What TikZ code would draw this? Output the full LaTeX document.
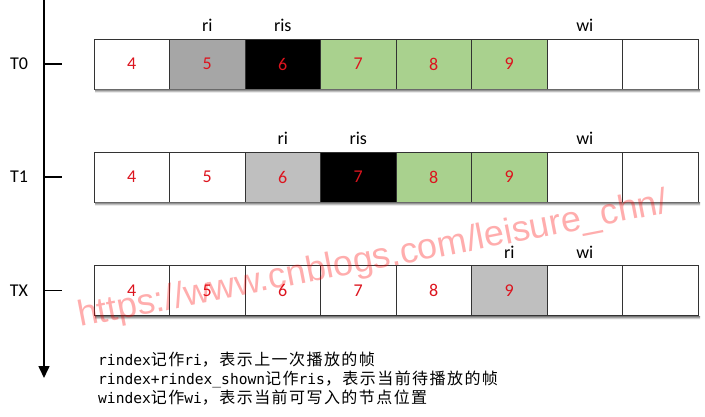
\documentclass[tikz,border=0pt]{standalone}
\usepackage{fontspec}
\setmainfont{Carlito}
\newfontfamily\cjk[LetterSpace=9]{Noto Sans CJK SC}
\newfontfamily\monofont{DejaVu Sans Mono}
\newfontfamily\wmfont{Liberation Sans}
\usetikzlibrary{positioning}
\usetikzlibrary{arrows.meta}

\definecolor{numred}{RGB}{220,20,30}
\definecolor{grayA}{RGB}{166,166,166}
\definecolor{grayB}{RGB}{191,191,191}
\definecolor{okgreen}{RGB}{169,209,142}
\definecolor{shade}{RGB}{226,231,240}

\begin{document}
\begin{tikzpicture}[x=1pt, y=-1pt,
    cell/.style = {draw=black!80, line width=0.9pt, minimum width=75.5pt, minimum height=50pt,
                   inner sep=0pt, outer sep=0pt, text=numred, font=\fontsize{18}{20}\selectfont},
    ptr/.style = {anchor=base, inner sep=0pt, font=\fontsize{18}{20}\selectfont},
    tname/.style = {font=\fontsize{18}{20}\selectfont},
    note/.style = {anchor=base west, inner sep=0pt, font=\monofont\fontsize{14.6}{19}\selectfont},
    wmark/.style = {anchor=base west, rotate=11, inner sep=0pt, text=red, text opacity=0.32,
                    font=\wmfont\fontsize{36}{36}\selectfont}]
      \useasboundingbox (0,0) rectangle (705,417);

      % time axis
      \coordinate (axtop) at (44,0);
      \coordinate (axend) at (44,378);
      \draw[line width=1.6pt, -{Triangle[length=12pt,width=11pt]}] (axtop) -- (axend);

      \coordinate (k0) at (44,64);    \coordinate (k0e) at (62,64);
      \coordinate (k1) at (44,177);   \coordinate (k1e) at (62,177);
      \coordinate (kx) at (44,290.7); \coordinate (kxe) at (62,290.7);
      \draw[line width=1.5pt] (k0) -- (k0e);
      \draw[line width=1.5pt] (k1) -- (k1e);
      \draw[line width=1.5pt] (kx) -- (kxe);
      \node[tname](t0) at (19,64) {T0};
      \node[tname](t1) at (19,177) {T1};
      \node[tname](tx) at (19,290.7) {TX};

      % T0
      \node[cell](a1) at (131.75,64) {4};
      \node[cell, fill=grayA](a2)[right=0pt of a1]{5};
      \node[cell, fill=black](a3)[right=0pt of a2]{6};
      \node[cell, fill=okgreen](a4)[right=0pt of a3]{7};
      \node[cell, fill=okgreen](a5)[right=0pt of a4]{8};
      \node[cell, fill=okgreen](a6)[right=0pt of a5]{9};
      \node[cell](a7)[right=0pt of a6]{};
      \node[cell](a8)[right=0pt of a7]{};
      \fill[shade] ([xshift=1pt,yshift=-0.5pt]a1.south west) rectangle ([xshift=2pt,yshift=-3.5pt]a8.south east);
      \node[ptr](ari) at ([yshift=7pt]a2.north) {ri};
      \node[ptr](aris) at ([yshift=7pt]a3.north) {ris};
      \node[ptr](awi) at ([yshift=7pt]a7.north) {wi};

      % T1
      \node[cell](b1) at (131.75,177) {4};
      \node[cell](b2)[right=0pt of b1]{5};
      \node[cell, fill=grayB](b3)[right=0pt of b2]{6};
      \node[cell, fill=black](b4)[right=0pt of b3]{7};
      \node[cell, fill=okgreen](b5)[right=0pt of b4]{8};
      \node[cell, fill=okgreen](b6)[right=0pt of b5]{9};
      \node[cell](b7)[right=0pt of b6]{};
      \node[cell](b8)[right=0pt of b7]{};
      \fill[shade] ([xshift=1pt,yshift=-0.5pt]b1.south west) rectangle ([xshift=2pt,yshift=-3.5pt]b8.south east);
      \node[ptr](bri) at ([yshift=7pt]b3.north) {ri};
      \node[ptr](bris) at ([yshift=7pt]b4.north) {ris};
      \node[ptr](bwi) at ([yshift=7pt]b7.north) {wi};

      % TX
      \node[cell](c1) at (131.75,290.7) {4};
      \node[cell](c2)[right=0pt of c1]{5};
      \node[cell](c3)[right=0pt of c2]{6};
      \node[cell](c4)[right=0pt of c3]{7};
      \node[cell](c5)[right=0pt of c4]{8};
      \node[cell, fill=grayB](c6)[right=0pt of c5]{9};
      \node[cell](c7)[right=0pt of c6]{};
      \node[cell](c8)[right=0pt of c7]{};
      \fill[shade] ([xshift=1pt,yshift=-0.5pt]c1.south west) rectangle ([xshift=2pt,yshift=-3.5pt]c8.south east);
      \node[ptr](cri) at ([yshift=7pt]c6.north) {ri};
      \node[ptr](cwi) at ([yshift=7pt]c7.north) {wi};

      % notes
      \node[note](n1) at (98,365) {rindex{\cjk\fontsize{16}{19}\selectfont 记作}ri{\cjk\fontsize{16}{19}\selectfont ，表示上一次播放的帧}};
      \node[note](n2) at (98,384) {rindex+rindex\_shown{\cjk\fontsize{16}{19}\selectfont 记作}ris{\cjk\fontsize{16}{19}\selectfont ，表示当前待播放的帧}};
      \node[note](n3) at (98,403) {windex{\cjk\fontsize{16}{19}\selectfont 记作}wi{\cjk\fontsize{16}{19}\selectfont ，表示当前可写入的节点位置}};

      % watermark
      \node[wmark](wm) at (80,327) {https://www.cnblogs.com/leisure\_chn/};
\end{tikzpicture}
\end{document}
